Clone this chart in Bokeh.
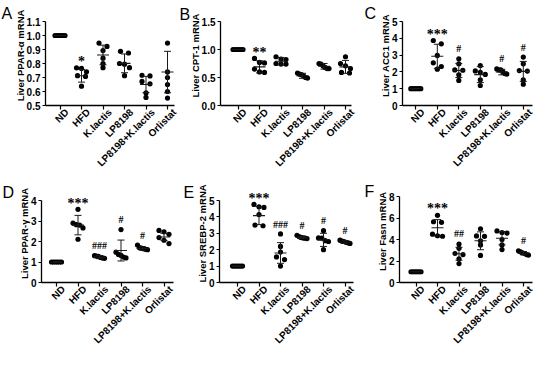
import math
from bokeh.plotting import figure
from bokeh.models import Range1d, FixedTicker, LinearAxis, Label
from bokeh.layouts import column, row
from bokeh.embed import file_html
from bokeh.resources import INLINE

groups = ["ND", "HFD", "K.lactis", "LP8198", "LP8198+K.lactis", "Orlistat"]

# ---------------- Panel A : Liver PPAR-alpha ----------------
a_nd = [1.0, 1.0, 1.0, 1.0, 1.0, 1.0]
a_hfd = [0.769, 0.765, 0.741, 0.713, 0.708, 0.638]
a_kl = [0.946, 0.922, 0.892, 0.838, 0.80, 0.77]
a_lp = [0.887, 0.875, 0.80, 0.795, 0.77, 0.713]
a_lpkl = [0.716, 0.711, 0.672, 0.655, 0.59, 0.558]
a_orl = [0.946, 0.74, 0.70, 0.65, 0.60, 0.553]
a_mean = [1.0, 0.712, 0.861, 0.801, 0.650, 0.739]
a_sd = [0.0, 0.045, 0.07, 0.067, 0.058, 0.148]
a_sig = ["", "*", "", "", "", ""]
a_ticks = [0.5, 0.6, 0.7, 0.8, 0.9, 1.0, 1.1]
a_tick_labels = ["0.5", "0.6", "0.7", "0.8", "0.9", "1.0", "1.1"]

# ---------------- Panel B : Liver CPT-1 ----------------
b_nd = [1.0, 1.0, 1.0, 1.0, 1.0, 1.0]
b_hfd = [0.84, 0.77, 0.76, 0.65, 0.60, 0.59]
b_kl = [0.87, 0.83, 0.82, 0.75, 0.74, 0.74]
b_lp = [0.58, 0.56, 0.55, 0.53, 0.50, 0.49]
b_lpkl = [0.75, 0.74, 0.71, 0.68, 0.66, 0.66]
b_orl = [0.87, 0.75, 0.71, 0.66, 0.59, 0.58]
b_mean = [1.0, 0.69, 0.79, 0.53, 0.70, 0.69]
b_sd = [0.0, 0.108, 0.068, 0.045, 0.05, 0.115]
b_sig = ["", "**", "", "", "", ""]
b_ticks = [0.0, 0.5, 1.0, 1.5]
b_tick_labels = ["0.0", "0.5", "1.0", "1.5"]

# ---------------- Panel C : Liver ACC1 ----------------
c_nd = [1.0, 1.0, 1.0, 1.0, 1.0, 1.0]
c_hfd = [3.87, 3.67, 2.98, 2.54, 2.32, 2.16]
c_kl = [2.78, 2.48, 2.12, 2.10, 1.83, 1.49]
c_lp = [2.38, 2.06, 1.98, 1.85, 1.53, 1.19]
c_lpkl = [2.18, 2.12, 2.12, 2.0, 1.9, 1.87]
c_orl = [2.88, 2.48, 2.08, 2.05, 1.53, 1.27]
c_mean = [1.0, 2.93, 2.08, 1.84, 1.99, 2.03]
c_sd = [0.0, 0.715, 0.415, 0.475, 0.165, 0.595]
c_sig = ["", "***", "#", "", "#", "#"]
c_ticks = [0, 1, 2, 3, 4, 5]
c_tick_labels = ["0", "1", "2", "3", "4", "5"]

# ---------------- Panel D : Liver PPAR-gamma ----------------
d_nd = [1.0, 1.0, 1.0, 1.0, 1.0, 1.0]
d_hfd = [3.57, 2.90, 2.82, 2.80, 2.66, 2.11]
d_kl = [1.31, 1.29, 1.27, 1.22, 1.20, 1.18]
d_lp = [2.58, 1.48, 1.37, 1.32, 1.24, 1.20]
d_lpkl = [1.83, 1.70, 1.68, 1.65, 1.62, 1.60]
d_orl = [2.54, 2.47, 2.35, 2.19, 2.06, 1.90]
d_mean = [1.0, 2.80, 1.24, 1.56, 1.66, 2.22]
d_sd = [0.0, 0.475, 0.075, 0.51, 0.08, 0.175]
d_sig = ["", "***", "###", "#", "#", ""]
d_ticks = [0, 1, 2, 3, 4]
d_tick_labels = ["0", "1", "2", "3", "4"]

# ---------------- Panel E : Liver SREBP-2 ----------------
e_nd = [1.0, 1.0, 1.0, 1.0, 1.0, 1.0]
e_hfd = [4.76, 4.62, 4.58, 4.14, 3.50, 3.46]
e_kl = [2.96, 2.20, 1.86, 1.56, 1.40, 1.00]
e_lp = [2.88, 2.80, 2.75, 2.72, 2.70, 2.68]
e_lpkl = [3.16, 2.72, 2.70, 2.55, 2.50, 2.00]
e_orl = [2.58, 2.52, 2.50, 2.45, 2.42, 2.38]
e_mean = [1.0, 4.08, 1.80, 2.75, 2.60, 2.47]
e_sd = [0.0, 0.55, 0.63, 0.07, 0.40, 0.08]
e_sig = ["", "***", "###", "#", "#", "#"]
e_ticks = [0, 1, 2, 3, 4, 5]
e_tick_labels = ["0", "1", "2", "3", "4", "5"]

# ---------------- Panel F : Liver Fasn ----------------
f_nd = [1.0, 1.0, 1.0, 1.0, 1.0, 1.0]
f_hfd = [6.25, 5.65, 5.60, 4.50, 4.35, 4.30]
f_kl = [3.58, 3.18, 2.70, 2.60, 2.20, 1.76]
f_lp = [5.00, 4.33, 4.30, 3.88, 3.50, 2.52]
f_lpkl = [4.80, 4.65, 4.60, 4.00, 3.50, 3.06]
f_orl = [2.95, 2.85, 2.75, 2.70, 2.60, 2.55]
f_mean = [1.0, 5.09, 2.67, 3.88, 4.12, 2.73]
f_sd = [0.0, 0.76, 0.60, 0.83, 0.62, 0.15]
f_sig = ["", "***", "##", "", "", "#"]
f_ticks = [0, 2, 4, 6, 8]
f_tick_labels = ["0", "2", "4", "6", "8"]

FONT = "Liberation Sans"
CAT_PX = 21.5     # pixels between categories
LABEL_SHIFT = 7   # x tick labels sit a little right of their tick
YLABEL_RAISE = 8  # y axis titles sit a little above the middle of the axis

# layout (figure-local pixels): axis left AX, axis width AW, axis top AT, axis bottom AB,
# gap from axis to first category, letter position (lx, ly)
panels = [
    dict(letter="A", ylabel="Liver PPAR-\u03b1 mRNA",
         vals=[a_nd, a_hfd, a_kl, a_lp, a_lpkl, a_orl], mean=a_mean, sd=a_sd, sig=a_sig,
         ticks=a_ticks, tick_labels=a_tick_labels,
         W=178, H=176, AX=45, AW=129, AT=21, AB=105, gap=14.5, lx=1, ly=4),
    dict(letter="B", ylabel="Liver CPT-1 mRNA",
         vals=[b_nd, b_hfd, b_kl, b_lp, b_lpkl, b_orl], mean=b_mean, sd=b_sd, sig=b_sig,
         ticks=b_ticks, tick_labels=b_tick_labels,
         W=178, H=176, AX=42, AW=131, AT=21, AB=105, gap=17.5, lx=1, ly=5),
    dict(letter="C", ylabel="Liver ACC1 mRNA",
         vals=[c_nd, c_hfd, c_kl, c_lp, c_lpkl, c_orl], mean=c_mean, sd=c_sd, sig=c_sig,
         ticks=c_ticks, tick_labels=c_tick_labels,
         W=178, H=176, AX=46, AW=130, AT=21, AB=105, gap=13.3, lx=8, ly=4),
    dict(letter="D", ylabel="Liver PPAR-\u03b3 mRNA",
         vals=[d_nd, d_hfd, d_kl, d_lp, d_lpkl, d_orl], mean=d_mean, sd=d_sd, sig=d_sig,
         ticks=d_ticks, tick_labels=d_tick_labels,
         W=178, H=176, AX=41, AW=132, AT=24, AB=106, gap=15.0, lx=2, ly=7),
    dict(letter="E", ylabel="Liver SREBP-2 mRNA",
         vals=[e_nd, e_hfd, e_kl, e_lp, e_lpkl, e_orl], mean=e_mean, sd=e_sd, sig=e_sig,
         ticks=e_ticks, tick_labels=e_tick_labels,
         W=178, H=176, AX=41, AW=134, AT=24, AB=106, gap=18.0, lx=5, ly=7),
    dict(letter="F", ylabel="Liver Fasn mRNA",
         vals=[f_nd, f_hfd, f_kl, f_lp, f_lpkl, f_orl], mean=f_mean, sd=f_sd, sig=f_sig,
         ticks=f_ticks, tick_labels=f_tick_labels,
         W=178, H=176, AX=43, AW=133, AT=20, AB=106, gap=16.5, lx=8, ly=6),
]


def spread(vals, py):
    """Horizontal offsets (category units) so that close points sit side by side."""
    order = sorted(range(len(vals)), key=lambda i: -vals[i])
    clusters = []
    for i in order:
        if clusters and (vals[clusters[-1][-1]] - vals[i]) * py < 4.0 \
                and (vals[clusters[-1][0]] - vals[i]) * py < 6.0:
            clusters[-1].append(i)
        else:
            clusters.append([i])
    offs = [0.0] * len(vals)
    for c in clusters:
        n = len(c)
        if n == 1:
            continue
        w = min(10.0, 8.0 * (n - 1))
        for k, i in enumerate(c):
            offs[i] = (-w / 2 + w * k / (n - 1)) / CAT_PX
    return offs


def label_width(s, size=10.0):
    """Approximate width (px) of a bold Liberation Sans number label."""
    return sum((0.278 if ch == "." else 0.556) * size for ch in s)


def make_panel(cfg):
    ymin, ymax = cfg["ticks"][0], cfg["ticks"][-1]
    yr = ymax - ymin
    W, H = cfg["W"], cfg["H"]
    py = (cfg["AB"] - cfg["AT"]) / yr
    xs = -cfg["gap"] / CAT_PX
    xe = xs + cfg["AW"] / CAT_PX
    xr0 = xs - cfg["AX"] / CAT_PX
    xr1 = xr0 + W / CAT_PX
    yr1 = ymax + cfg["AT"] / py
    yr0 = ymin - (H - cfg["AB"]) / py
    d = LABEL_SHIFT / CAT_PX

    p = figure(width=W, height=H, output_backend="svg", toolbar_location=None,
               x_range=Range1d(xr0, xr1), y_range=Range1d(yr0, yr1),
               x_axis_location=None, y_axis_location=None,
               min_border=0, min_border_left=0, min_border_right=0,
               min_border_top=0, min_border_bottom=0)
    p.extra_x_ranges = {"lab": Range1d(xr0 - d, xr1 - d)}
    p.outline_line_color = None
    p.grid.visible = False
    p.background_fill_color = "white"
    p.border_fill_color = "white"

    # points
    px_, py_ = [], []
    for gi, v in enumerate(cfg["vals"]):
        offs = spread(v, py)
        for val, o in zip(v, offs):
            px_.append(gi + o)
            py_.append(val)
    p.scatter(px_, py_, size=5.2, fill_color="black", line_color="black", line_width=0)

    # mean +/- SD
    mh = 6.0 / CAT_PX
    ch = 3.5 / CAT_PX
    gx = list(range(len(groups)))
    m = cfg["mean"]
    s = cfg["sd"]
    lo = [mm - ss for mm, ss in zip(m, s)]
    hi = [mm + ss for mm, ss in zip(m, s)]
    col = "#1a1a1a"
    p.segment(x0=[g - mh for g in gx], y0=m, x1=[g + mh for g in gx], y1=m, line_color=col, line_width=1.1)
    p.segment(x0=gx, y0=lo, x1=gx, y1=hi, line_color=col, line_width=1.0)
    p.segment(x0=[g - ch for g in gx], y0=lo, x1=[g + ch for g in gx], y1=lo, line_color=col, line_width=1.0)
    p.segment(x0=[g - ch for g in gx], y0=hi, x1=[g + ch for g in gx], y1=hi, line_color=col, line_width=1.0)

    # significance marks
    sx, sy, st = [], [], []
    hx, hy, ht = [], [], []
    for gi, lab in enumerate(cfg["sig"]):
        if not lab:
            continue
        top = max(cfg["vals"][gi])
        if "*" in lab:
            sx.append(gi); sy.append(top + 0.075 * yr); st.append(lab)
        else:
            hx.append(gi); hy.append(top + 0.12 * yr); ht.append(lab)
    if sx:
        p.text(x=sx, y=sy, text=st, text_font=FONT, text_font_size="14px",
               text_font_style="bold", text_align="center", text_baseline="middle",
               text_color="black")
    if hx:
        p.text(x=hx, y=hy, text=ht, text_font=FONT, text_font_size="10px",
               text_font_style="bold", text_align="center", text_baseline="middle",
               text_color="black")

    # panel letter
    p.add_layout(Label(x=xr0 + cfg["lx"] / CAT_PX, y=yr1 - cfg["ly"] / py, text=cfg["letter"],
                       text_font=FONT, text_font_size="16px",
                       text_align="left", text_baseline="top", text_color="black"))

    # axes (drawn at the data origin, limited to the data bounds)
    xa = LinearAxis(fixed_location=ymin, bounds=(xs, xe))
    ya = LinearAxis(fixed_location=xs, bounds=(ymin, ymax))
    xl = LinearAxis(fixed_location=ymin, x_range_name="lab")
    for ax in (xa, ya, xl):
        ax.axis_line_color = "black"
        ax.axis_line_width = 1.3
        ax.major_tick_line_color = "black"
        ax.major_tick_line_width = 1.2
        ax.major_tick_in = 0
        ax.minor_tick_line_color = None
        ax.major_label_text_font = FONT
        ax.major_label_text_font_size = "10px"
        ax.major_label_text_font_style = "bold"
        ax.major_label_text_color = "black"
    # tick marks of the category axis
    xa.ticker = FixedTicker(ticks=gx)
    xa.major_label_overrides = {i: "" for i in gx}
    xa.major_tick_out = 4
    # category names, rotated, slightly right of the ticks
    xl.ticker = FixedTicker(ticks=gx)
    xl.major_label_overrides = {i: g for i, g in enumerate(groups)}
    xl.major_label_orientation = math.pi / 4
    xl.axis_line_color = None
    xl.major_tick_line_color = None
    xl.major_tick_out = 0
    xl.major_label_standoff = 5
    # value axis
    ya.ticker = FixedTicker(ticks=cfg["ticks"])
    ya.major_label_overrides = {t: l for t, l in zip(cfg["ticks"], cfg["tick_labels"])}
    ya.major_tick_out = 3
    ya.major_label_standoff = 2
    # axis title, carried by a line-less axis whose span is raised a little
    raise_ = YLABEL_RAISE / py
    yl = LinearAxis(fixed_location=xs, bounds=(ymin + raise_, ymax + raise_))
    yl.ticker = FixedTicker(ticks=[])
    yl.axis_line_color = None
    yl.major_tick_line_color = None
    yl.minor_tick_line_color = None
    yl.major_tick_out = 0
    yl.major_tick_in = 0
    yl.major_label_standoff = 0
    yl.axis_label = cfg["ylabel"]
    yl.axis_label_text_font = FONT
    yl.axis_label_text_font_size = "9.5px"
    yl.axis_label_text_font_style = "bold"
    yl.axis_label_text_color = "black"
    yl.axis_label_standoff = int(round(3 + 2 + max(label_width(t) for t in cfg["tick_labels"]) + 1))
    p.add_layout(xa, "below")
    p.add_layout(xl, "below")
    p.add_layout(ya, "left")
    p.add_layout(yl, "left")
    return p


figs = [make_panel(c) for c in panels]
layout = column(row(figs[0], figs[1], figs[2]), row(figs[3], figs[4], figs[5]))
open("out.html", "w").write(file_html(layout, INLINE))
